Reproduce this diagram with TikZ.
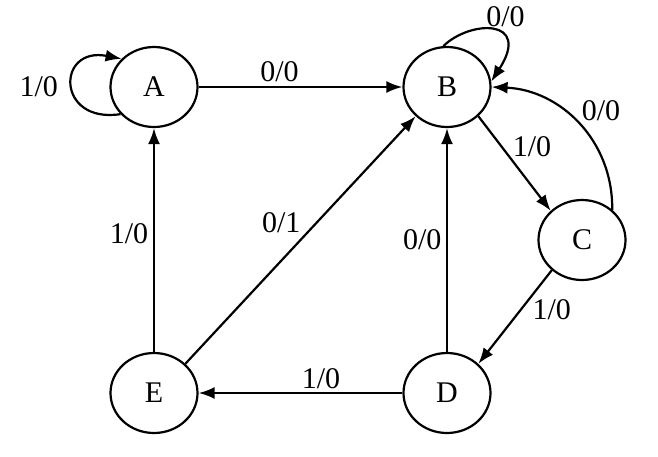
\documentclass[tikz,border=0pt]{standalone}
\usepackage{fontspec}
\setmainfont{Liberation Serif}
\usetikzlibrary{arrows.meta,shapes.geometric}
\begin{document}
\begin{tikzpicture}[x=1pt,y=-1pt,
  state/.style={draw,ellipse,line width=2.2pt,minimum width=87pt,minimum height=80pt,inner sep=0pt,font=\fontsize{30}{36}\selectfont},
  lbl/.style={anchor=base,inner sep=0pt,font=\fontsize{30}{36}\selectfont},
  arr/.style={line width=2.2pt,-{Latex[length=16pt,width=12pt]}}]
\useasboundingbox (0,0) rectangle (658,456);
\node[state] (A) at (154,87) {A};
\node[state] (B) at (447,87) {B};
\node[state] (C) at (582,240) {C};
\node[state] (D) at (447,393) {D};
\node[state] (E) at (154,393) {E};
% edges
\draw[arr] (A.219) .. controls (56,124) and (56,46) .. (A.139);
\draw[arr] (A) -- (B);
\draw[arr] (B.95) .. controls (470,20) and (532,18) .. (B.7);
\draw[arr] (C.45) .. controls (613,140) and (560,90) .. (B.east);
\draw[arr] (B.-43) -- (C.137);
\draw[arr] (C.-135) -- (D.43);
\draw[arr] (D) -- (B);
\draw[arr] (D) -- (E);
\draw[arr] (E) -- (A);
\draw[arr] (E.43) -- (B.223);
% labels
\node[lbl] (lA) at (38.8,96.7) {1/0};
\node[lbl] (lAB) at (279.5,81) {0/0};
\node[lbl] (lB) at (505.5,26) {0/0};
\node[lbl] (lCB) at (601,120.7) {0/0};
\node[lbl] (lBC) at (532,156) {1/0};
\node[lbl] (lCD) at (551.7,319.3) {1/0};
\node[lbl] (lDB) at (422.3,249.3) {0/0};
\node[lbl] (lEB) at (281.3,232.3) {0/1};
\node[lbl] (lEA) at (129,243) {1/0};
\node[lbl] (lDE) at (321,388.3) {1/0};
\end{tikzpicture}
\end{document}
